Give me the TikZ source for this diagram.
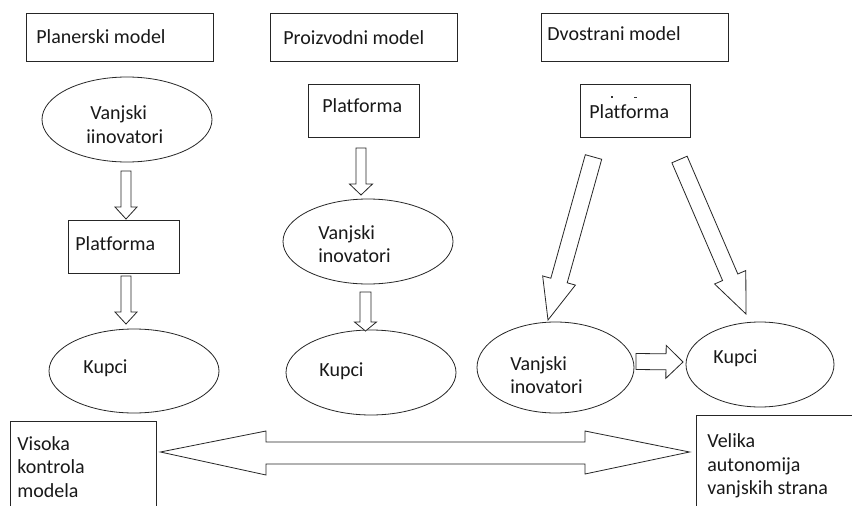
\documentclass[tikz,border=0pt]{standalone}
\usepackage{fontspec}
\setmainfont{Carlito}[Ligatures={NoCommon,NoContextual}]
\usetikzlibrary{calc,shapes.geometric}
\newcommand\blockarr[5]{%
  \path coordinate (bah) at ($(#2)!#5!(#1)$);
  \draw[barrow] ($(#1)!#3!90:(#2)$) -- ($(bah)!#3!90:(#2)$) -- ($(bah)!#4!90:(#2)$)
    -- (#2) -- ($(bah)!#4!-90:(#2)$) -- ($(bah)!#3!-90:(#2)$) -- ($(#1)!#3!-90:(#2)$) -- cycle;
}
\begin{document}
\begin{tikzpicture}[x=1pt,y=-1pt,line width=0.8pt,
  box/.style={draw=black!85, rectangle, inner sep=0pt},
  oval/.style={draw=black!85, ellipse, inner sep=0pt},
  barrow/.style={draw=black!85, fill=white, line join=miter},
  txt/.style={inner sep=0pt, anchor=west, align=left, text=black!90,
    font=\fontsize{20}{23.5}\selectfont}]
\useasboundingbox (0,0) rectangle (852,506);
\clip (0,0) rectangle (852,506);
\fill[white] (0,0) rectangle (852,506);

% title boxes
\node[box, minimum width=187pt, minimum height=48pt] (b1) at (119.5,37) {};
\node[txt] (b1t) at (36,37) {Planerski model};
\node[box, minimum width=187pt, minimum height=48pt] (b2) at (363.5,37) {};
\node[txt] (b2t) at (283,38) {Proizvodni model};
\node[box, minimum width=187pt, minimum height=48pt] (b3) at (634.5,37) {};
\node[txt] (b3t) at (547,34) {Dvostrani model};

% column 1
\node[oval, minimum width=170pt, minimum height=85pt] (e1) at (127,119.5) {};
\node[txt] (e1t) at (86,124.5) {\hspace*{4pt}Vanjski\\iinovatori};
\node[box, minimum width=111pt, minimum height=53pt] (p1) at (123.5,246.5) {};
\node[txt] (p1t) at (75,244) {Platforma};
\node[oval, minimum width=170pt, minimum height=84pt] (k1) at (134,371) {};
\node[txt] (k1t) at (83,368) {Kupci};

% column 2
\node[box, minimum width=111pt, minimum height=53pt] (p2) at (363.5,110.5) {};
\node[txt] (p2t) at (322,106) {Platforma};
\node[oval, minimum width=170pt, minimum height=85pt] (e2) at (368,241.5) {};
\node[txt] (e2t) at (318,244) {Vanjski\\inovatori};
\node[oval, minimum width=170pt, minimum height=85pt] (k2) at (371,372.5) {};
\node[txt] (k2t) at (319,371) {Kupci};

% column 3
\node[box, minimum width=110pt, minimum height=53pt] (p3) at (635,110.5) {};
\node[txt] (p3t) at (589,112) {Platforma};
\fill[black!80] (611.3,96.3) rectangle (612.8,97.8);
\fill[black!80] (633.5,96.5) rectangle (636.5,97.8);
\node[oval, minimum width=157pt, minimum height=91pt] (e3) at (555.5,367.5) {};
\node[txt] (e3t) at (510,375) {Vanjski\\inovatori};
\node[oval, minimum width=148pt, minimum height=85pt] (k3) at (760,364.5) {};
\node[txt] (k3t) at (713,358) {Kupci};

% bottom boxes
\node[box, minimum width=146pt, minimum height=110pt] (bl) at (83,476) {};
\node[txt] (blt) at (17,467) {Visoka\\kontrola\\modela};
\node[box, minimum width=170pt, minimum height=110pt] (br) at (781,470) {};
\node[txt] (brt) at (707,466) {Velika\\autonomija\\vanjskih strana};

% arrows
\coordinate (a1s) at (126,171); \coordinate (a1e) at (126,219);
\coordinate (a2s) at (126,276); \coordinate (a2e) at (126,324);
\coordinate (a3s) at (361,148); \coordinate (a3e) at (361,195);
\coordinate (a4s) at (365.5,292); \coordinate (a4e) at (365.5,331);
\coordinate (a5s) at (593.5,157); \coordinate (a5e) at (548,320);
\coordinate (a6s) at (679.5,159.5); \coordinate (a6e) at (746,314);
\coordinate (a7s) at (636,361.5); \coordinate (a7e) at (683,362);
\blockarr{a1s}{a1e}{5pt}{11pt}{12pt}
\blockarr{a2s}{a2e}{5pt}{11pt}{12pt}
\blockarr{a3s}{a3e}{5pt}{11.5pt}{11pt}
\blockarr{a4s}{a4e}{5.5pt}{11pt}{9pt}
\blockarr{a5s}{a5e}{8.5pt}{17pt}{41pt}
\blockarr{a6s}{a6e}{8.3pt}{17pt}{40pt}
\blockarr{a7s}{a7e}{8pt}{16.5pt}{17pt}

% double arrow
\coordinate (dl) at (bl.east|-0,452);
\coordinate (dr) at (br.west|-0,452);
\draw[barrow] ($(dl)+(4,0)$) -- (266,431) -- (266,442) -- (585,442) -- (585,431)
  -- ($(dr)+(-6,0)$) -- (585,474) -- (585,464) -- (266,464) -- (266,475) -- cycle;
\end{tikzpicture}
\end{document}
